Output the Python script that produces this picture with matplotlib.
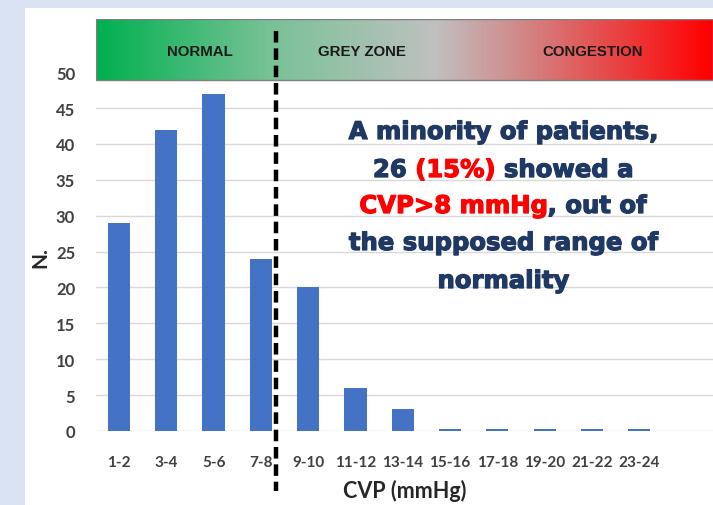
import matplotlib
matplotlib.use("Agg")
import matplotlib.pyplot as plt
import numpy as np
from matplotlib.colors import LinearSegmentedColormap
from matplotlib.patches import Rectangle
import matplotlib.patheffects as pe

# 数据
categories = ['1-2', '3-4', '5-6', '7-8', '9-10', '11-12', '13-14',
              '15-16', '17-18', '19-20', '21-22', '23-24']
counts = [29, 42, 47, 24, 20, 6, 3, 0.3, 0.3, 0.3, 0.3, 0.3]
yticks = [0, 5, 10, 15, 20, 25, 30, 35, 40, 45, 50]
zone_labels = ['NORMAL', 'GREY ZONE', 'CONGESTION']
zone_pos = [1.71, 5.14, 10.02]
note_lines = [
    [('A minority of patients,', '#1f3864')],
    [('26 ', '#1f3864'), ('(15%)', '#ff0000'), (' showed a', '#1f3864')],
    [('CVP>8 mmHg', '#ff0000'), (', out of', '#1f3864')],
    [('the supposed range of', '#1f3864')],
    [('normality', '#1f3864')],
]

W, H = 713, 506
fig = plt.figure(figsize=(W / 100, H / 100), dpi=100)
fig.patch.set_facecolor('#dae3f3')
# 白色面板
fig.add_artist(Rectangle((25 / W, 0), 1, 1 - 9 / H, transform=fig.transFigure,
                         facecolor='white', edgecolor='none', zorder=0))

ax = fig.add_axes([96 / W, 74 / H, 1 - 96 / W, 412 / H])
ax.set_facecolor('none')
x = np.arange(len(categories))
ax.bar(x, counts, width=0.47, color='#4472c4', zorder=2)

ax.set_yticks(yticks)
ax.set_xticks(x)
ax.set_xticklabels(categories)
ax.grid(axis='y', color='#d9d9d9', linewidth=1, zorder=0)
for s in ax.spines.values():
    s.set_visible(False)
ax.tick_params(axis='both', length=0, colors='#404040')
ax.tick_params(axis='y', pad=15, labelsize=12)
ax.tick_params(axis='x', pad=17, labelsize=11)
for lab in ax.get_xticklabels() + ax.get_yticklabels():
    lab.set_fontweight('bold')
    lab.set_family(['Lato', 'DejaVu Sans'])

# 渐变色条
cmap = LinearSegmentedColormap.from_list(
    'zone', [(0.0, '#00b050'), (0.28, '#78c296'), (0.55, '#c0c0c0'),
             (0.68, '#d08c8c'), (1.0, '#ff0000')])
grad = np.linspace(0, 1, 400).reshape(1, -1)
ax.imshow(grad, cmap=cmap, aspect='auto', extent=(-0.486, 12.56, 48.9, 57.4),
          zorder=3)
ax.add_patch(Rectangle((-0.486, 48.9), 13.046, 8.5, fill=False,
                       edgecolor='#7f7f7f', linewidth=1, zorder=4))
ax.set_xlim(-0.486, 12.56)
ax.set_ylim(0, 57.4)
for lab, px in zip(zone_labels, zone_pos):
    ax.text(px, 52.9, lab, ha='center', va='center', fontsize=10.8,
            fontweight='bold', color='#1a1a1a',
            family=['Liberation Sans', 'DejaVu Sans'], zorder=5)

# 虚线
ax.plot([3.33, 3.33], [55.7, -8.4], color='black', linewidth=3.2,
        linestyle=(0, (2.6, 1.3)), clip_on=False, zorder=6)

fig.text(40 / W, 1 - 258 / H, 'N.', rotation=90, ha='center', va='center',
         fontsize=15, fontweight='bold', color='#262626',
         family=['Lato', 'DejaVu Sans'])
fig.text(405 / W, 1 - 491 / H, 'CVP (mmHg)', ha='center', va='center',
         fontsize=15.5, fontweight='bold', color='#262626',
         family=['Lato', 'DejaVu Sans'])

# 注释文字（多色）
renderer = fig.canvas.get_renderer()
line_y = [133, 171, 207, 244, 282]
note_kw = dict(fontsize=17.5, fontweight='bold', family=['DejaVu Sans'])


def text_width(s):
    t = fig.text(0, 0, s + 'X', **note_kw)
    tx = fig.text(0, 0, 'X', **note_kw)
    w = t.get_window_extent(renderer).width - tx.get_window_extent(renderer).width
    t.remove()
    tx.remove()
    return w


cx = 503
for yc, parts in zip(line_y, note_lines):
    full = ''.join(p[0] for p in parts)
    total = text_width(full)
    x0 = cx - total / 2
    prefix = ''
    for s, c in parts:
        off = text_width(prefix) if prefix else 0
        t = fig.text((x0 + off) / W, 1 - yc / H, s, color=c, ha='left',
                     va='center', zorder=10, **note_kw)
        t.set_path_effects([pe.withStroke(linewidth=0.9, foreground=c)])
        prefix += s

fig.savefig('out.png', dpi=100, facecolor=fig.get_facecolor())
